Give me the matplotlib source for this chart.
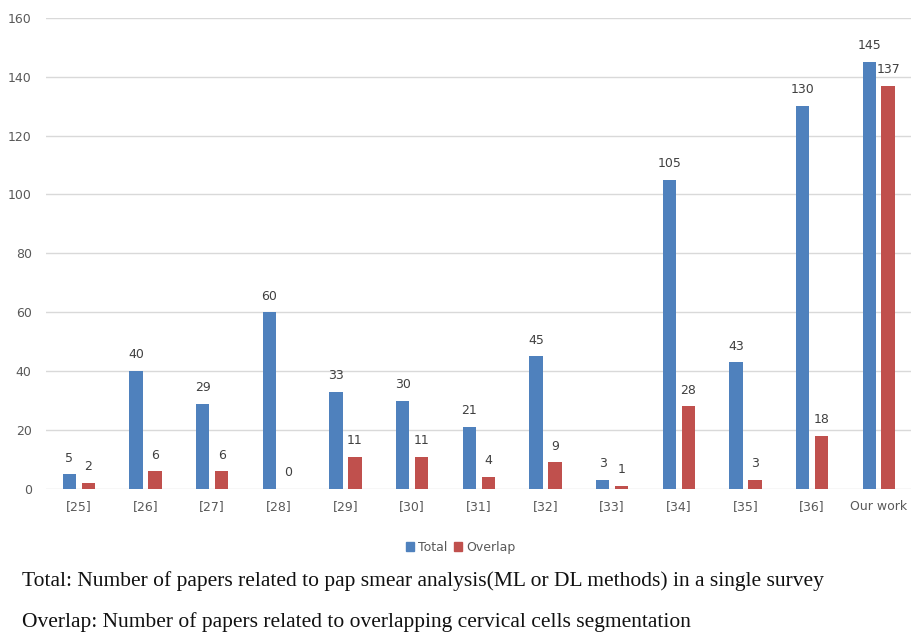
import numpy as np
import matplotlib
matplotlib.use("Agg")
import matplotlib.pyplot as plt
from matplotlib.patches import Patch

# data
categories = ["[25]", "[26]", "[27]", "[28]", "[29]", "[30]", "[31]",
              "[32]", "[33]", "[34]", "[35]", "[36]", "Our work"]
total = [5, 40, 29, 60, 33, 30, 21, 45, 3, 105, 43, 130, 145]
overlap = [2, 6, 6, 0, 11, 11, 4, 9, 1, 28, 3, 18, 137]

blue = "#4F81BD"
red = "#C0504D"
grey = "#595959"

fig = plt.figure(figsize=(9.12, 6.35), dpi=100)
ax = fig.add_axes([0.05, 0.23, 0.95, 0.742])

x = np.arange(len(categories))
w = 0.2
off = 0.142
b1 = ax.bar(x - off, total, w, color=blue)
b2 = ax.bar(x + off, overlap, w, color=red)

for bars, vals in ((b1, total), (b2, overlap)):
    for r, v in zip(bars, vals):
        ax.annotate(str(v), (r.get_x() + r.get_width() / 2, v),
                    xytext=(0, 7), textcoords="offset points",
                    ha="center", va="bottom", fontsize=9, color="#404040")

ax.set_xlim(-0.5, len(categories) - 0.5)
ax.set_ylim(0, 160)
ax.set_yticks(range(0, 161, 20))
ax.set_xticks(x)
ax.set_xticklabels(categories)
ax.tick_params(length=0, labelsize=9, labelcolor=grey)
ax.tick_params(axis="x", pad=8)
ax.tick_params(axis="y", pad=10)
ax.grid(axis="y", color="#d9d9d9", linewidth=1)
ax.set_axisbelow(True)
for s in ax.spines.values():
    s.set_visible(False)

handles = [Patch(color=blue, label="Total"), Patch(color=red, label="Overlap")]
fig.legend(handles=handles, loc="center", bbox_to_anchor=(0.505, 0.138),
           ncol=2, frameon=False, fontsize=9, handlelength=0.7,
           handleheight=0.7, handletextpad=0.3, columnspacing=0.5,
           labelcolor=grey)

fig.text(0.024, 0.085,
         "Total: Number of papers related to pap smear analysis(ML or DL methods) in a single survey",
         family="Liberation Serif", fontsize=15.5, va="center", color="#111111")
fig.text(0.024, 0.02,
         "Overlap: Number of papers related to overlapping cervical cells segmentation",
         family="Liberation Serif", fontsize=15.5, va="center", color="#111111")

fig.savefig("out.png", dpi=100)
